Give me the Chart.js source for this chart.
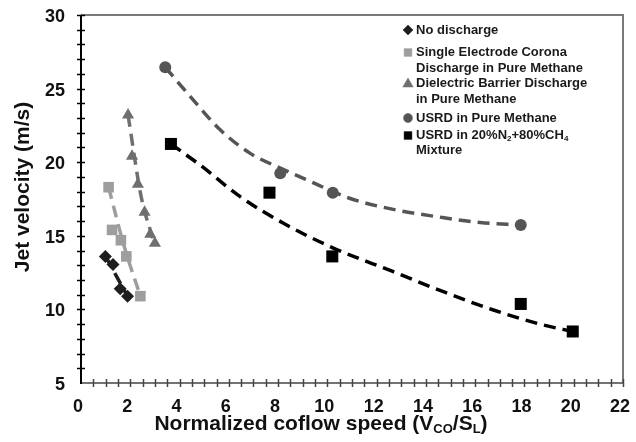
<!DOCTYPE html>
<html><head><meta charset="utf-8">
<script src="https://cdn.jsdelivr.net/npm/chart.js@4/dist/chart.umd.min.js"></script>
<style>html,body{margin:0;padding:0;background:#fff}</style>
</head><body>
<canvas id="c" width="636" height="442"></canvas>
<script>
// ---- data ----
const noDischargeX = [0.99, 1.30, 1.59, 1.89];
const noDischargeY = [13.6, 13.05, 11.4, 10.9];
const corona1X = [1.12, 1.26, 1.62, 1.84, 2.41];
const corona1Y = [18.3, 15.4, 14.7, 13.6, 10.9];
const dbdX = [1.91, 2.07, 2.31, 2.58, 2.81, 3.0];
const dbdY = [23.2, 20.4, 18.5, 16.6, 15.1, 14.5];
const usrdX = [3.42, 8.09, 10.22, 17.85];
const usrdY = [26.45, 19.25, 17.93, 15.73];
const usrdMixX = [3.65, 7.65, 10.2, 17.85, 19.96];
const usrdMixY = [21.24, 17.93, 13.6, 10.37, 8.5];
// dashed trend curves
const trendNoDisX = [1.0, 1.95];
const trendNoDisY = [13.6, 10.7];
const trendCoronaX = [1.12, 1.75, 2.45];
const trendCoronaY = [18.3, 14.3, 10.7];
const trendDbdX = [1.91, 2.45, 2.98];
const trendDbdY = [23.2, 17.6, 14.5];
const trendUsrdX = [3.42, 4.57, 5.65, 6.87, 8.09, 9.3, 10.9, 12.8, 14.44, 16.2, 17.85];
const trendUsrdY = [26.45, 24.2, 22.2, 20.6, 19.6, 18.7, 17.55, 16.75, 16.3, 15.9, 15.73];
const trendMixX = [3.65, 4.84, 6.46, 8.22, 10.2, 12.68, 14.71, 16.74, 18.77, 19.96];
const trendMixY = [21.24, 19.8, 17.66, 15.85, 14.2, 12.56, 11.2, 9.96, 8.94, 8.5];
const xTicks = [0, 2, 4, 6, 8, 10, 12, 14, 16, 18, 20, 22];
const yTicks = [5, 10, 15, 20, 25, 30];

const zip = (xs, ys) => xs.map((x, i) => ({x: x, y: ys[i]}));
const FONT = '"Liberation Sans", Arial, sans-serif';

const C_DIA = '#1e1e1e', C_COR = '#9e9e9e', C_DBD = '#6f6f6f', C_USRD = '#555555', C_MIX = '#000000';

function trend(xs, ys, color) {
  return {data: zip(xs, ys), showLine: true, pointRadius: 0, borderColor: color,
    borderWidth: 3.5, borderDash: [12, 7], cubicInterpolationMode: 'monotone', fill: false, order: 2};
}
function pts(xs, ys, color, style, r) {
  return {data: zip(xs, ys), showLine: false, pointStyle: style, pointRadius: r,
    pointBackgroundColor: color, pointBorderColor: color, pointBorderWidth: 0, order: 1};
}

const datasets = [
  trend(trendNoDisX, trendNoDisY, C_DIA),
  trend(trendCoronaX, trendCoronaY, C_COR),
  trend(trendDbdX, trendDbdY, C_DBD),
  trend(trendUsrdX, trendUsrdY, C_USRD),
  trend(trendMixX, trendMixY, C_MIX),
  pts(noDischargeX, noDischargeY, C_DIA, 'rectRot', 6.5),
  pts(corona1X, corona1Y, C_COR, 'rect', 7.5),
  pts(dbdX, dbdY, C_DBD, 'triangle', 7),
  pts(usrdX, usrdY, C_USRD, 'circle', 6),
  pts(usrdMixX, usrdMixY, C_MIX, 'rect', 8.5)
];

function drawRich(ctx, parts, x, y, size) {
  let cx = x;
  for (const [t, sub] of parts) {
    const s = sub ? size * 0.62 : size;
    ctx.font = 'bold ' + s + 'px ' + FONT;
    ctx.fillText(t, cx, sub ? y + size * 0.28 : y);
    cx += ctx.measureText(t).width;
  }
  return cx - x;
}
function richWidth(ctx, parts, size) {
  let w = 0;
  for (const [t, sub] of parts) {
    ctx.font = 'bold ' + (sub ? size * 0.62 : size) + 'px ' + FONT;
    w += ctx.measureText(t).width;
  }
  return w;
}

const decor = {
  id: 'decor',
  afterDraw(chart) {
    const ctx = chart.ctx, a = chart.chartArea, xs = chart.scales.x, ys = chart.scales.y;
    ctx.save();
    ctx.strokeStyle = '#7a7a7a'; ctx.lineWidth = 2;
    ctx.beginPath(); ctx.moveTo(a.left, a.top); ctx.lineTo(a.right, a.top); ctx.lineTo(a.right, a.bottom); ctx.stroke();
    ctx.strokeStyle = '#444'; ctx.lineWidth = 1.5;
    ctx.beginPath(); ctx.moveTo(a.left, a.bottom); ctx.lineTo(a.right, a.bottom); ctx.stroke();
    for (let v = 0.5; v <= 22.001; v += 0.5) {
      const px = Math.round(xs.getPixelForValue(v)) + 0.5;
      ctx.beginPath(); ctx.moveTo(px, a.bottom - 4); ctx.lineTo(px, a.bottom + 4); ctx.stroke();
    }
    ctx.strokeStyle = '#000'; ctx.lineWidth = 2;
    ctx.beginPath(); ctx.moveTo(a.left, a.top); ctx.lineTo(a.left, a.bottom + 1); ctx.stroke();
    ctx.lineWidth = 1.5;
    for (let v = 6; v <= 30; v += 1) {
      const py = Math.round(ys.getPixelForValue(v)) + 0.5;
      ctx.beginPath(); ctx.moveTo(a.left - 4, py); ctx.lineTo(a.left + 4, py); ctx.stroke();
    }
    ctx.fillStyle = '#111'; ctx.textBaseline = 'middle'; ctx.textAlign = 'left';
    const xt = [['Normalized coflow speed (V', false], ['CO', true], ['/S', false], ['L', true], [')', false]];
    const tsz = 21;
    const w = richWidth(ctx, xt, tsz);
    drawRich(ctx, xt, 321 - w / 2, 424, tsz);
    ctx.save();
    ctx.translate(23, 187); ctx.rotate(-Math.PI / 2);
    ctx.textAlign = 'center';
    ctx.font = 'bold ' + tsz + 'px ' + FONT;
    ctx.fillText('Jet velocity (m/s)', 0, 0);
    ctx.restore();
    const lx = 416, mx = 408, fs = 13;
    ctx.textAlign = 'left';
    const lines = [
      [[['No discharge', false]], 30],
      [[['Single Electrode Corona', false]], 52.5],
      [[['Discharge in Pure Methane', false]], 68],
      [[['Dielectric Barrier Discharge', false]], 83.5],
      [[['in Pure Methane', false]], 99],
      [[['USRD in Pure Methane', false]], 118],
      [[['USRD in 20%N', false], ['2', true], ['+80%CH', false], ['4', true]], 135.5],
      [[['Mixture', false]], 150.5]
    ];
    for (const [parts, y] of lines) { ctx.fillStyle = '#1a1a1a'; drawRich(ctx, parts, lx, y, fs); }
    const marks = [[C_DIA, 'rectRot', 5, 30], [C_COR, 'rect', 5.5, 52.5], [C_DBD, 'triangle', 6, 84], [C_USRD, 'circle', 4.5, 118], [C_MIX, 'rect', 5.5, 135.5]];
    for (const [c, st, r, y] of marks) {
      ctx.fillStyle = c; ctx.strokeStyle = c; ctx.lineWidth = 0.5;
      Chart.helpers.drawPoint(ctx, {pointStyle: st, radius: r, borderWidth: 0.5, rotation: 0}, mx, y);
    }
    ctx.restore();
  }
};

new Chart(document.getElementById('c').getContext('2d'), {
  type: 'scatter',
  data: {datasets: datasets},
  plugins: [decor],
  options: {
    responsive: false, animation: false, devicePixelRatio: 1,
    layout: {padding: {left: 0, top: 15, right: 13, bottom: 0}},
    plugins: {legend: {display: false}, tooltip: {enabled: false}},
    scales: {
      x: {type: 'linear', min: 0, max: 22,
        afterBuildTicks(s) { s.ticks = xTicks.map(v => ({value: v})); },
        ticks: {color: '#111', font: {family: FONT, weight: 'bold', size: 18}, padding: 13, maxRotation: 0, labelOffset: -3},
        grid: {display: false, drawTicks: false}, border: {display: false},
        afterFit(s) { s.height = 59; s.paddingLeft = 0; s.paddingRight = 0; }},
      y: {type: 'linear', min: 5, max: 30,
        afterBuildTicks(s) { s.ticks = yTicks.map(v => ({value: v})); },
        ticks: {color: '#111', font: {family: FONT, weight: 'bold', size: 18}, padding: 16, labelOffset: 2},
        grid: {display: false, drawTicks: false}, border: {display: false},
        afterFit(s) { s.width = 81; s.paddingTop = 0; s.paddingBottom = 0; }}
    }
  }
});
</script>
</body></html>
